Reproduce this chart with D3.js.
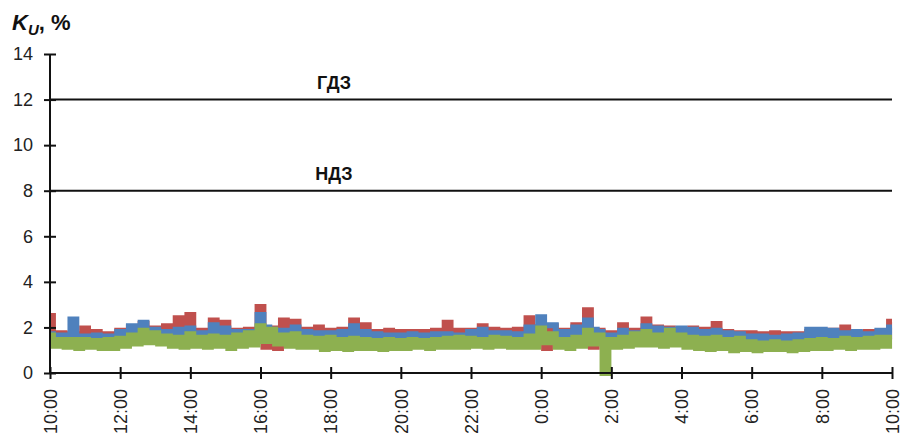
<!DOCTYPE html>
<html>
<head>
<meta charset="utf-8">
<script src="https://cdn.jsdelivr.net/npm/d3@7"></script>
<style>
  body { margin: 0; background: #fff; }
  text { font-family: "Liberation Sans", Arial, sans-serif; }
</style>
</head>
<body>
<div id="chart"></div>
<script>
// Ku, % - 24h record, one value every 10 min starting at 10:00
const stepMinutes = 10;

const phaseA = [ // red
  2.5,1.6,1.75,1.55,1.7,1.5,1.95,1.6,1.8,1.55,1.7,1.5,
  1.85,1.65,2.0,1.8,2.15,1.75,1.95,1.6,2.05,1.75,2.4,1.8,
  2.55,1.7,1.85,1.6,2.3,1.9,2.2,1.6,1.85,1.7,1.9,1.6,
  2.9,1.15,1.95,1.1,2.3,1.85,2.25,1.6,1.9,1.65,2.0,1.6,
  1.85,1.6,1.9,1.7,2.3,1.9,2.1,1.6,1.8,1.6,1.85,1.6,
  1.8,1.6,1.8,1.6,1.8,1.55,1.85,1.6,2.2,1.65,1.85,1.6,
  1.85,1.65,2.05,1.7,1.9,1.6,1.85,1.65,1.9,1.6,2.4,1.8,
  2.0,1.1,2.05,1.65,1.85,1.6,2.1,1.8,2.75,1.15,1.85,1.6,
  1.75,1.55,2.1,1.7,1.85,1.65,2.35,1.8,2.0,1.7,1.95,1.65,
  1.9,1.65,1.95,1.6,1.9,1.6,2.15,1.65,1.8,1.6,1.75,1.55,
  1.75,1.5,1.7,1.55,1.75,1.5,1.7,1.55,1.7,1.5,1.8,1.5,
  1.8,1.55,1.85,1.6,2.0,1.55,1.75,1.6,1.8,1.55,1.8,1.6,
  2.25
];

const phaseB = [ // blue
  1.7,1.55,1.65,1.6,2.35,1.55,1.6,1.5,1.65,1.55,1.6,1.55,
  1.8,1.7,2.05,1.85,2.2,1.9,1.9,1.7,1.8,1.6,1.9,1.65,
  1.95,1.65,1.75,1.6,2.1,1.7,1.95,1.6,1.8,1.65,1.8,1.7,
  2.55,2.0,1.9,1.7,1.85,1.6,2.0,1.65,1.8,1.55,1.75,1.6,
  1.75,1.55,1.8,1.6,2.05,1.7,1.8,1.55,1.7,1.55,1.65,1.5,
  1.65,1.5,1.7,1.55,1.65,1.5,1.7,1.55,1.7,1.5,1.65,1.55,
  1.8,1.6,1.9,1.65,1.75,1.6,1.75,1.6,1.7,1.55,2.0,1.7,
  2.45,2.1,2.1,1.7,1.8,1.6,2.0,1.75,2.3,1.9,1.8,1.6,
  1.65,1.55,1.85,1.65,1.75,1.65,2.05,1.8,1.95,1.75,1.9,1.7,
  1.95,1.7,1.9,1.65,1.8,1.6,1.85,1.6,1.75,1.55,1.7,1.5,
  1.6,1.45,1.6,1.5,1.55,1.45,1.6,1.5,1.65,1.5,1.9,1.55,
  1.9,1.6,1.85,1.6,1.75,1.55,1.8,1.6,1.7,1.55,1.85,1.65,
  2.0
];

const phaseC = [ // green
  1.65,1.2,1.45,1.15,1.45,1.1,1.45,1.15,1.4,1.1,1.45,1.1,
  1.5,1.2,1.65,1.3,1.85,1.35,1.75,1.3,1.6,1.2,1.55,1.15,
  1.7,1.2,1.55,1.15,1.6,1.2,1.55,1.1,1.65,1.2,1.75,1.25,
  2.05,1.4,1.9,1.3,1.65,1.2,1.7,1.15,1.55,1.15,1.5,1.05,
  1.55,1.1,1.45,1.05,1.5,1.1,1.45,1.1,1.4,1.05,1.45,1.1,
  1.4,1.1,1.45,1.15,1.4,1.1,1.45,1.15,1.5,1.15,1.55,1.15,
  1.5,1.2,1.45,1.15,1.55,1.2,1.5,1.15,1.45,1.15,1.6,1.15,
  1.95,1.35,1.7,1.15,1.45,1.1,1.55,1.2,1.85,1.3,1.65,0.0,
  1.45,1.15,1.55,1.2,1.7,1.25,1.8,1.25,1.65,1.2,1.85,1.25,
  1.65,1.15,1.55,1.1,1.5,1.05,1.55,1.1,1.45,1.0,1.5,1.05,
  1.35,1.0,1.3,1.05,1.35,1.05,1.3,1.0,1.35,1.05,1.4,1.1,
  1.45,1.1,1.4,1.15,1.5,1.1,1.45,1.15,1.5,1.15,1.55,1.2,
  1.55
];

const yTicks = [0, 2, 4, 6, 8, 10, 12, 14];
const limits = [
  {label: "ГДЗ", value: 12},
  {label: "НДЗ", value: 8}
];

const width = 902, height = 439;
const margin = {top: 54, right: 10, bottom: 66, left: 50};

const svg = d3.select("#chart").append("svg")
  .attr("width", width)
  .attr("height", height);

const t0 = new Date(2000, 0, 1, 10, 0);
const t1 = new Date(2000, 0, 2, 10, 0);

const x = d3.scaleTime()
  .domain([t0, t1])
  .range([margin.left, width - margin.right]);

const y = d3.scaleLinear()
  .domain([0, 14])
  .range([height - margin.bottom, margin.top]);

function timeAt(i) {
  return new Date(t0.getTime() + i * stepMinutes * 60000);
}

// limit lines
svg.append("g").selectAll("line")
  .data(limits)
  .join("line")
  .attr("x1", x(t0)).attr("x2", x(t1))
  .attr("y1", d => y(d.value)).attr("y2", d => y(d.value))
  .attr("stroke", "#111")
  .attr("stroke-width", 2);

svg.append("g").selectAll("text")
  .data(limits)
  .join("text")
  .attr("x", 334)
  .attr("y", d => y(d.value) - 11)
  .attr("text-anchor", "middle")
  .attr("font-weight", "bold")
  .attr("font-size", 18)
  .attr("fill", "#111")
  .text(d => d.label);

// series - dense record, drawn as steps so it reads as a band
const line = d3.line()
  .x((d, i) => x(timeAt(i)))
  .y(d => y(d))
  .curve(d3.curveStep);

const series = [
  {values: phaseA, color: "#C0504D"},
  {values: phaseB, color: "#4F81BD"},
  {values: phaseC, color: "#8DB050"}
];

svg.append("g").selectAll("path")
  .data(series)
  .join("path")
  .attr("d", d => line(d.values))
  .attr("fill", "none")
  .attr("stroke", d => d.color)
  .attr("stroke-width", 6)
  .attr("stroke-linejoin", "miter");

// axes
const yAxis = d3.axisLeft(y)
  .tickValues(yTicks)
  .tickSize(0)
  .tickPadding(17);

const gy = svg.append("g")
  .attr("transform", `translate(${margin.left},0)`)
  .call(yAxis);
gy.select(".domain").remove();
gy.selectAll("text")
  .attr("font-size", 18)
  .attr("fill", "#222");
gy.selectAll(".tick").append("line")
  .attr("x1", -6).attr("x2", 6)
  .attr("stroke", "#111").attr("stroke-width", 2);
gy.append("line")
  .attr("y1", y(14)).attr("y2", y(0))
  .attr("stroke", "#111").attr("stroke-width", 2);

const xAxis = d3.axisBottom(x)
  .ticks(d3.timeHour.every(2))
  .tickFormat(d3.timeFormat("%-H:%M"))
  .tickSize(0);

const gx = svg.append("g")
  .attr("transform", `translate(0,${y(0)})`)
  .call(xAxis);
gx.select(".domain").remove();
gx.append("line")
  .attr("x1", x(t0)).attr("x2", x(t1))
  .attr("stroke", "#111").attr("stroke-width", 2);
gx.selectAll(".tick").append("line")
  .attr("y1", -6).attr("y2", 6)
  .attr("stroke", "#111").attr("stroke-width", 2);
gx.selectAll("text")
  .attr("font-size", 18)
  .attr("fill", "#222")
  .attr("text-anchor", "end")
  .attr("transform", "rotate(-90)")
  .attr("x", -16)
  .attr("y", 0)
  .attr("dy", "0.35em");

// axis title K_U, %
const title = svg.append("text")
  .attr("x", 12)
  .attr("y", 30)
  .attr("font-weight", "bold")
  .attr("font-size", 22)
  .attr("fill", "#111");
title.append("tspan").attr("font-style", "italic").text("K");
title.append("tspan").attr("font-style", "italic")
  .attr("font-size", 15).attr("dy", 5).text("U");
title.append("tspan").attr("dy", -5).text(", %");
</script>
</body>
</html>
